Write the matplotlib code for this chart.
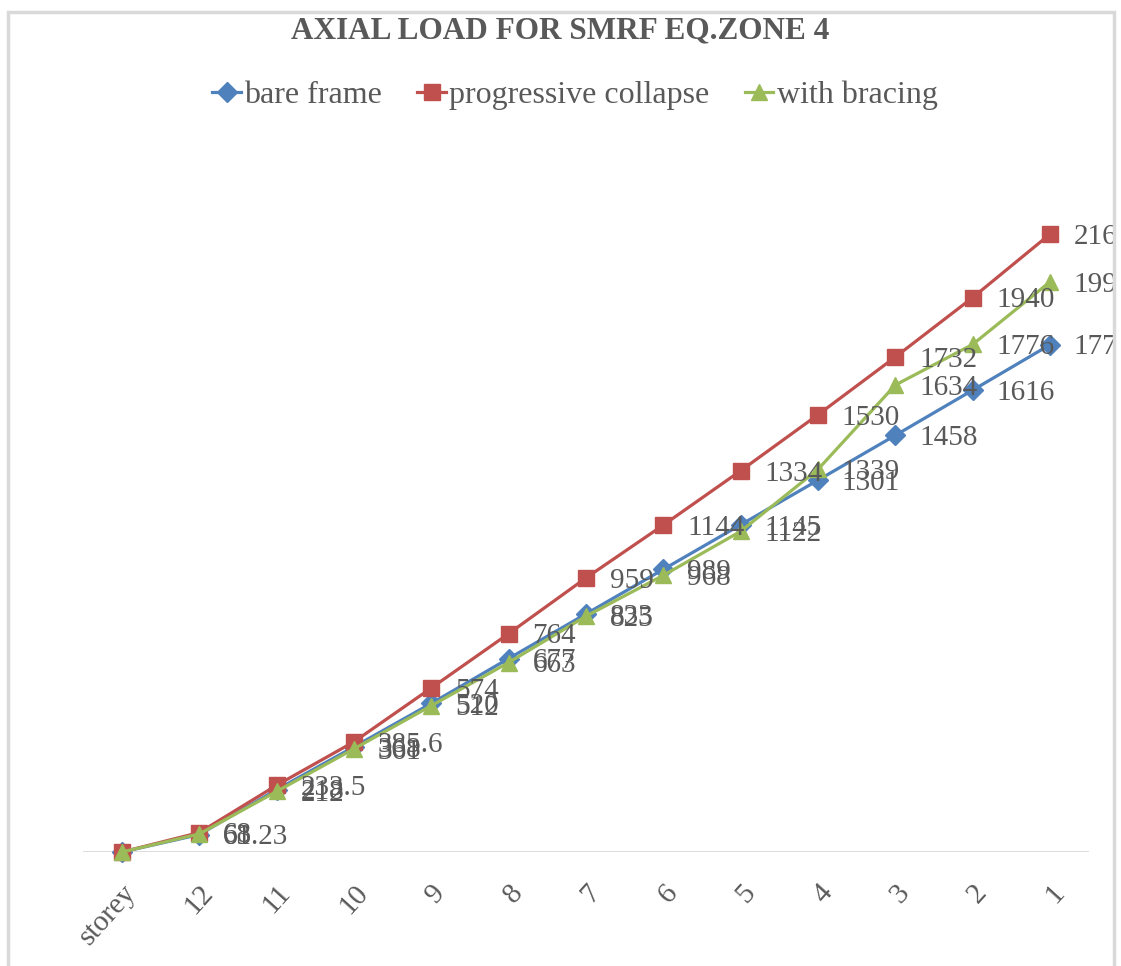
import matplotlib
matplotlib.use("Agg")
import matplotlib.pyplot as plt
from matplotlib.patches import Rectangle
from matplotlib.lines import Line2D
from matplotlib.transforms import Bbox, TransformedBbox

storeys = ['storey', '12', '11', '10', '9', '8', '7', '6', '5', '4', '3', '2', '1']
bare_frame = [0, 61, 218, 368, 520, 677, 833, 989, 1145, 1301, 1458, 1616, 1775]
progressive_collapse = [0, 68, 233.5, 385.6, 574, 764, 959, 1144, 1334, 1530, 1732, 1940, 2162]
with_bracing = [0, 63.23, 212, 361, 512, 663, 825, 968, 1122, 1339, 1634, 1776, 1995]

series = [
    ("bare frame", bare_frame, "#4F81BD", "D", 10),
    ("progressive collapse", progressive_collapse, "#C0504D", "s", 12),
    ("with bracing", with_bracing, "#9BBB59", "^", 12),
]

W, H = 1121, 966
plt.rcParams['font.family'] = ['Liberation Serif', 'DejaVu Serif']
fig = plt.figure(figsize=(W / 100, H / 100), dpi=100)

# chart border
border = Rectangle((8 / W, -0.05), (1114 - 8) / W, 1 - 12 / H + 0.05,
                   transform=fig.transFigure, fill=False, edgecolor="#D9D9D9",
                   linewidth=2.5)
fig.patches.append(border)
clip_box = TransformedBbox(Bbox([[8 / W, 0], [1113 / W, 1]]), fig.transFigure)

ax = fig.add_axes([83.3 / W, (H - 852) / H, 1005.4 / W, 714.5 / H])
ax.set_xlim(-0.5, len(storeys) - 0.5)
ax.set_ylim(0, 2500)
x = list(range(len(storeys)))

for name, vals, col, mk, ms in series:
    ax.plot(x, vals, color=col, linewidth=2.3, marker=mk, markersize=ms,
            markerfacecolor=col, markeredgecolor=col, label=name, clip_on=False, zorder=3)

for name, vals, col, mk, ms in series:
    for i, v in enumerate(vals):
        if i == 0:
            continue
        t = ax.annotate(f"{v:g}", (i, v), xytext=(17, -2), textcoords="offset points",
                        ha="left", va="center", fontsize=21, color="#595959",
                        annotation_clip=False, zorder=4)
        t.set_clip_on(True)
        t.set_clip_box(clip_box)

ax.axhline(0, color="#D9D9D9", linewidth=2, zorder=1)
for s in ax.spines.values():
    s.set_visible(False)
ax.set_yticks([])
ax.set_xticks(x)
ax.set_xticklabels(storeys, rotation=48, ha="right", rotation_mode="anchor",
                   fontsize=21, color="#595959")
ax.tick_params(axis="x", length=0, pad=20)

fig.text(0.5, 1 - 31 / H, "AXIAL LOAD FOR SMRF EQ.ZONE 4", ha="center", va="center",
         fontsize=22.5, fontweight="bold", color="#595959")

handles = [Line2D([0], [0], color=c, marker=m, markersize=ms, linewidth=2.3)
           for _, _, c, m, ms in series]
fig.legend(handles, [s[0] for s in series], loc="center", bbox_to_anchor=(575 / W, 1 - 95 / H),
           ncol=3, frameon=False, fontsize=23, handlelength=0.9, handletextpad=0.1,
           columnspacing=1.1, labelcolor="#595959")

fig.savefig("out.png", dpi=100)
